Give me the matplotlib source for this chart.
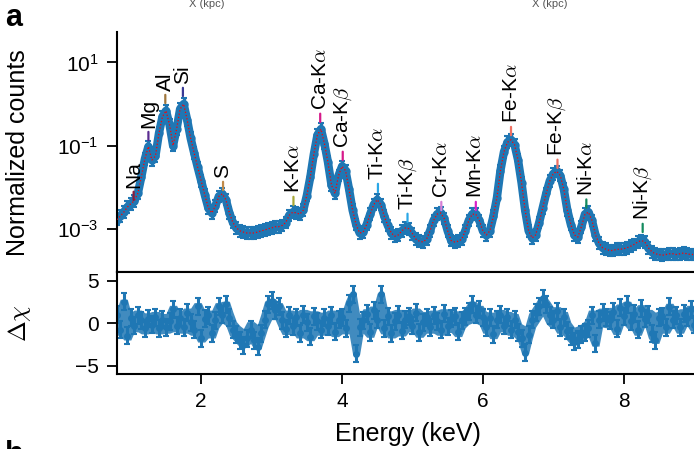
import numpy as np
import matplotlib.pyplot as plt

plt.rcParams['font.family'] = ['Liberation Sans', 'DejaVu Sans']
plt.rcParams['mathtext.fontset'] = 'cm'

# Spectrum, every 0.05 keV from 0.80 to 9.00 keV
energy = np.round(np.arange(0.80, 9.001, 0.05), 2)
counts = [
    1.66e-3, 2.0e-3, 2.5e-3, 3.3e-3, 4.0e-3, 4.7e-3, 7.1e-3, 1.78e-2, 4.8e-2, 9.5e-2,
    4.5e-2, 5.6e-2, 0.20, 0.50, 0.69, 0.316, 0.10, 0.25, 0.76, 1.0,
    0.42, 0.15, 0.066, 0.030, 0.0141, 6.6e-3, 3.2e-3, 2.4e-3, 3.5e-3, 6.0e-3,
    6.9e-3, 5.0e-3, 2.4e-3, 1.41e-3, 1.05e-3, 8.9e-4, 8.3e-4, 7.9e-4, 7.9e-4, 7.9e-4,
    8.3e-4, 8.9e-4, 9.3e-4, 1.0e-3, 1.05e-3, 1.12e-3, 1.12e-3, 1.20e-3, 1.41e-3, 2.1e-3,
    2.5e-3, 2.4e-3, 2.24e-3, 2.8e-3, 6.3e-3, 1.78e-2, 6.3e-2, 0.178, 0.25, 0.112,
    0.040, 0.0112, 7.1e-3, 0.019, 0.0316, 0.025, 8.9e-3, 2.8e-3, 1.26e-3, 7.9e-4,
    8.3e-4, 1.26e-3, 2.24e-3, 3.8e-3, 5.0e-3, 3.8e-3, 2.0e-3, 1.20e-3, 7.9e-4, 6.6e-4,
    7.1e-4, 8.9e-4, 1.05e-3, 1.0e-3, 7.6e-4, 5.6e-4, 5.0e-4, 4.8e-4, 5.6e-4, 8.9e-4,
    1.58e-3, 2.24e-3, 2.4e-3, 1.78e-3, 8.9e-4, 5.2e-4, 4.8e-4, 5.0e-4, 5.6e-4, 8.9e-4,
    1.58e-3, 2.24e-3, 2.24e-3, 1.58e-3, 8.9e-4, 7.1e-4, 8.9e-4, 2.0e-3, 5.6e-3, 0.025,
    0.071, 0.12, 0.138, 0.105, 0.045, 0.0126, 2.8e-3, 8.9e-4, 6.0e-4, 7.1e-4,
    1.41e-3, 3.2e-3, 7.1e-3, 0.0141, 0.021, 0.024, 0.019, 8.9e-3, 2.8e-3, 1.26e-3,
    7.1e-4, 6.3e-4, 1.12e-3, 2.24e-3, 2.5e-3, 1.58e-3, 7.1e-4, 4.5e-4, 3.5e-4, 3.2e-4,
    3.0e-4, 3.0e-4, 3.2e-4, 3.2e-4, 3.3e-4, 3.5e-4, 3.8e-4, 4.2e-4, 4.8e-4, 5.2e-4,
    4.8e-4, 3.5e-4, 2.8e-4, 2.5e-4, 2.4e-4, 2.3e-4, 2.4e-4, 2.5e-4, 2.5e-4, 2.4e-4,
    2.5e-4, 2.6e-4, 2.5e-4, 2.4e-4, 2.4e-4,
]
count_err_dex = 0.14

# residuals (delta chi) on the same grid, error bars of 1 sigma
resid = [
    1.0, -0.8, 2.5, -1.5, 0.6, -0.3, 0.9, 0.3, -0.6, 0.5,
    -0.2, 0.7, -0.6, 0.4, -0.5, 0.2, 1.6, -0.3, 0.6, -0.5,
    1.2, 0.1, -0.8, 2.0, -1.8, 0.5, 0.9, -1.2, 0.3, 2.0,
    1.0, 2.2, 0.6, -0.8, -1.4, -2.0, -2.6, -1.8, -0.8, -2.0,
    -2.8, -1.2, 0.4, 2.2, 2.6, 1.5, 2.0, 0.3, -0.7, 0.9,
    -0.4, 0.7, -1.2, 1.0, 0.1, -1.6, 0.8, 0.2, -0.8, 0.6,
    -0.4, 0.9, -1.0, 0.4, 0.7, -0.6, 2.3, 3.4, -3.6, -0.5,
    0.3, 1.1, -1.1, 1.5, 0.4, 3.4, -0.6, 0.8, -1.2, 0.2,
    1.0, -0.9, 0.4, 0.8, -0.3, 1.2, -1.1, 0.1, 0.7, -0.5,
    0.9, 0.2, -0.8, 1.1, -0.4, 0.5, 0.8, -1.0, 0.3, 0.8,
    1.4, 2.2, 1.0, 1.6, 0.7, -0.5, 0.6, -1.3, 0.4, 1.0,
    -0.3, 0.7, -0.8, 0.4, -1.1, -1.8, -3.5, -1.4, 0.4, 1.2,
    2.0, 2.9, 2.2, 0.9, 0.4, 1.4, -0.5, 0.7, -0.9, -1.6,
    -2.2, -1.9, -1.4, -1.1, -0.6, 0.9, -2.4, 0.4, 1.2, 0.7,
    0.3, 1.3, -0.7, 1.8, 0.8, 2.2, 0.2, 1.1, -0.8, 1.7,
    0.5, 1.0, -1.2, -2.0, 0.6, 0.8, -0.5, 1.9, 0.4, 0.9,
    -0.5, 1.1, 0.6, 1.6, -0.2,
]
resid_err = 1.0

# emission lines: label, energy (keV), height of the marker, marker colour
line_names = ['Na', 'Mg', 'Al', 'Si', 'S', r'K-K$\alpha$', r'Ca-K$\alpha$', r'Ca-K$\beta$',
              r'Ti-K$\alpha$', r'Ti-K$\beta$', r'Cr-K$\alpha$', r'Mn-K$\alpha$',
              r'Fe-K$\alpha$', r'Fe-K$\beta$', r'Ni-K$\alpha$', r'Ni-K$\beta$']
line_energy = [1.04, 1.25, 1.49, 1.74, 2.31, 3.31, 3.69, 4.01,
               4.51, 4.93, 5.41, 5.90, 6.40, 7.06, 7.47, 8.27]
line_y = [4.9e-3, 0.135, 1.05, 1.55, 8.5e-3, 3.7e-3, 0.37, 0.045,
          7.6e-3, 1.45e-3, 2.8e-3, 2.8e-3, 0.178, 0.029, 3.2e-3, 8.3e-4]
line_colors = ['#8c1c3c', '#5a2d91', '#a0763c', '#3a3a96', '#c08a4a', '#a8a838',
               '#d6198a', '#d6198a', '#2aa7e6', '#2aa7e6', '#d67fd6', '#d81fc8',
               '#f07062', '#f07062', '#138a5e', '#138a5e']

counts = np.array(counts)
resid = np.array(resid)
lo = counts * (1 - 10 ** -count_err_dex)
hi = counts * (10 ** count_err_dex - 1)

# envelope of each residual bar and its two neighbours, so the dense band reads solid
rp = np.pad(resid, 1, mode='edge')
band_lo = np.minimum.reduce([rp[:-2], rp[1:-1], rp[2:]]) - resid_err
band_hi = np.maximum.reduce([rp[:-2], rp[1:-1], rp[2:]]) + resid_err

fig = plt.figure(figsize=(6.94, 4.49), dpi=100)
ax1 = fig.add_axes([0.1682, 0.3942, 0.839, 0.5345])
ax2 = fig.add_axes([0.1682, 0.1670, 0.839, 0.2272])

blue = '#1f77b4'
ax1.plot(energy, counts, color=blue, lw=6, solid_capstyle='round', zorder=1)
ax1.errorbar(energy, counts, yerr=[lo, hi], fmt='o', ms=5, color=blue,
             elinewidth=2.4, capsize=2.2, capthick=1.5, zorder=2)
ax1.plot(energy, counts, color='red', lw=0.9, ls=':', zorder=3)

for name, e, y, c in zip(line_names, line_energy, line_y, line_colors):
    ax1.annotate('', xy=(e, y), xytext=(e, y * 10 ** 0.2),
                 arrowprops=dict(arrowstyle='-', color=c, lw=1.6,
                                 shrinkA=0, shrinkB=0))
    ax1.annotate(name, xy=(e, y), xytext=(0, 8.5), textcoords='offset points',
                 rotation=90, ha='center', va='bottom', fontsize=15)

ax1.set_yscale('log')
ax1.set_xlim(0.8, 9.07)
ax1.set_ylim(9.1e-5, 54)
ax1.set_yticks([10, 0.1, 1e-3])
ax1.yaxis.set_minor_locator(plt.NullLocator())
ax1.set_xticks([2, 4, 6, 8])
ax1.set_xticklabels([])
ax1.spines['top'].set_visible(False)
ax1.spines['right'].set_visible(False)
ax1.set_ylabel('Normalized counts', fontsize=18)
ax1.yaxis.set_label_coords(30 / 694, 1 - 153 / 449, transform=fig.transFigure)

ax2.fill_between(energy, band_lo * 0.8, band_hi * 0.8, color=blue, alpha=0.85,
                 lw=0, zorder=1)
ax2.errorbar(energy, resid, yerr=resid_err, fmt='o', ms=4, color=blue,
             elinewidth=2.2, capsize=2.2, capthick=1.5, zorder=2)
ax2.set_xlim(0.8, 9.07)
ax2.set_ylim(-6, 6)
ax2.set_yticks([-5, 0, 5])
ax2.set_yticklabels(['\u22125', '0', '5'])
ax2.set_xticks([2, 4, 6, 8])
ax2.set_xlabel('Energy (keV)', fontsize=18, labelpad=8)
ax2.set_ylabel(r'$\Delta\chi$', fontsize=18)
ax2.yaxis.set_label_coords(33 / 694, 1 - 323 / 449, transform=fig.transFigure)

for ax in (ax1, ax2):
    for s in ax.spines.values():
        s.set_linewidth(1.5)
    ax.tick_params(direction='out', length=7, width=1.3, labelsize=15, pad=6)

fig.text(5 / 694, 1 - 26 / 449, 'a', fontsize=22, fontweight='bold', va='baseline')
fig.text(5 / 694, 1 - 463 / 449, 'b', fontsize=22, fontweight='bold', va='baseline')
fig.text(207 / 694, 1 - 7 / 449, 'X (kpc)', fontsize=8, color='#555555',
         ha='center', va='baseline')
fig.text(550 / 694, 1 - 7 / 449, 'X (kpc)', fontsize=8, color='#555555',
         ha='center', va='baseline')

fig.savefig('out.png', dpi=100)
